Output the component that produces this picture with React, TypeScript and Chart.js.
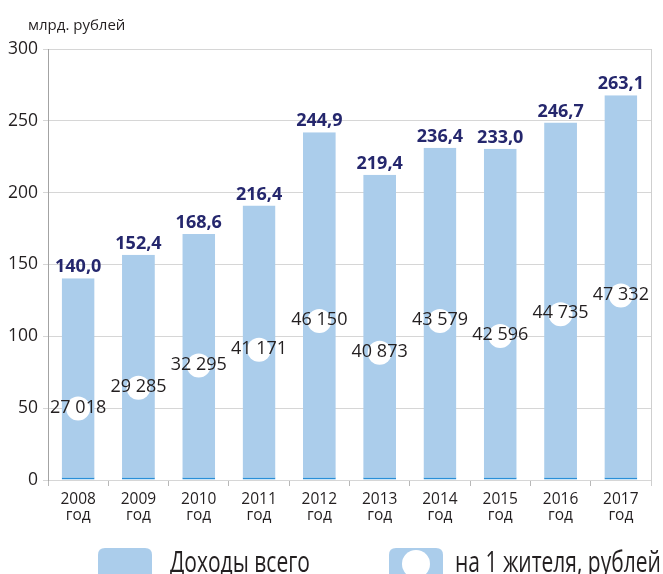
import React, { useEffect, useRef } from 'react';
import { Chart, registerables } from 'chart.js';

Chart.register(...registerables);

// ---- data ----
const years = ['2008', '2009', '2010', '2011', '2012', '2013', '2014', '2015', '2016', '2017'];
const yearSuffix = 'год';
const incomeTotal = [140.0, 152.4, 168.6, 216.4, 244.9, 219.4, 236.4, 233.0, 246.7, 263.1];
const barHeights = [140.5, 156.8, 171.2, 191.0, 242.0, 212.5, 231.2, 230.5, 248.8, 267.8];
const perCapita = [27018, 29285, 32295, 41171, 46150, 40873, 43579, 42596, 44735, 47332];
const perCapitaMarker = [49.8, 64.2, 79.7, 90.7, 110.6, 88.6, 110.6, 100.3, 115.4, 128.4];
const yMin = 0;
const yMax = 300;
const yStep = 50;
const unitLabel = 'млрд. рублей';
const seriesNames = ['Доходы всего', 'на 1 жителя, рублей'];

// ---- styles ----
const FONT = '"Open Sans", "Noto Sans", sans-serif';
const BAR = '#abcdeb';
const BAR_EDGE = '#2a8fd8';
const NAVY = '#25276d';
const TEXT = '#231f20';
const GRID = '#d6d6d6';

const fmtTotal = (v: number) => v.toFixed(1).replace('.', ',');
const fmtPer = (v: number) => String(v).replace(/\B(?=(\d{3})+(?!\d))/g, ' ');

const labelsPlugin = {
  id: 'valueLabels',
  afterDatasetsDraw(chart: any) {
    const ctx = chart.ctx;
    ctx.save();
    ctx.textAlign = 'center';
    const barMeta = chart.getDatasetMeta(0);
    ctx.font = `bold 18px ${FONT}`;
    ctx.fillStyle = NAVY;
    ctx.textBaseline = 'alphabetic';
    barMeta.data.forEach((el: any, i: number) => {
      ctx.fillText(fmtTotal(incomeTotal[i]), el.x, el.y - 6);
    });
    const ptMeta = chart.getDatasetMeta(1);
    ctx.font = `18px ${FONT}`;
    ctx.fillStyle = TEXT;
    ctx.textBaseline = 'middle';
    ptMeta.data.forEach((el: any, i: number) => {
      ctx.fillText(fmtPer(perCapita[i]), el.x, el.y - 1);
    });
    ctx.restore();
  },
};

const decorPlugin = {
  id: 'decor',
  afterDraw(chart: any) {
    const ctx = chart.ctx;
    const area = chart.chartArea;
    ctx.save();
    // right frame line
    ctx.strokeStyle = '#cfcfcf';
    ctx.lineWidth = 1;
    ctx.beginPath();
    ctx.moveTo(area.right + 0.5, area.top);
    ctx.lineTo(area.right + 0.5, area.bottom + 6);
    ctx.stroke();
    // unit label
    ctx.font = `15px ${FONT}`;
    ctx.fillStyle = TEXT;
    ctx.textAlign = 'left';
    ctx.textBaseline = 'alphabetic';
    ctx.fillText(unitLabel, 28, 29.5);

    // legend
    const rr = (x: number, y: number, w: number, h: number, r: number) => {
      ctx.beginPath();
      ctx.moveTo(x + r, y);
      ctx.lineTo(x + w - r, y);
      ctx.quadraticCurveTo(x + w, y, x + w, y + r);
      ctx.lineTo(x + w, y + h - r);
      ctx.quadraticCurveTo(x + w, y + h, x + w - r, y + h);
      ctx.lineTo(x + r, y + h);
      ctx.quadraticCurveTo(x, y + h, x, y + h - r);
      ctx.lineTo(x, y + r);
      ctx.quadraticCurveTo(x, y, x + r, y);
      ctx.closePath();
    };
    const drawText = (t: string, x: number, base: number) => {
      ctx.save();
      ctx.translate(x, base);
      ctx.scale(1, 1.4);
      ctx.font = `21px ${FONT}`;
      ctx.fillStyle = TEXT;
      ctx.textAlign = 'left';
      ctx.textBaseline = 'alphabetic';
      ctx.fillText(t, 0, 0);
      ctx.restore();
    };
    ctx.fillStyle = BAR;
    rr(98, 548, 54, 34, 7);
    ctx.fill();
    drawText(seriesNames[0], 170, 572);
    ctx.fillStyle = BAR;
    rr(389, 548, 54, 34, 7);
    ctx.fill();
    ctx.fillStyle = '#ffffff';
    ctx.beginPath();
    ctx.arc(416, 564, 14, 0, Math.PI * 2);
    ctx.fill();
    drawText(seriesNames[1], 455, 572);
    ctx.restore();
  },
};

export default function App() {
  const ref = useRef<HTMLCanvasElement | null>(null);
  useEffect(() => {
    if (!ref.current) return;
    const chart = new Chart(ref.current, {
      type: 'bar',
      data: {
        labels: years.map((y) => [y, yearSuffix]),
        datasets: [
          {
            type: 'bar',
            label: seriesNames[0],
            data: barHeights,
            backgroundColor: BAR,
            borderColor: BAR_EDGE,
            borderWidth: { top: 0, left: 0, right: 0, bottom: 2 },
            borderSkipped: false,
            barPercentage: 0.545,
            categoryPercentage: 1,
            order: 2,
          },
          {
            type: 'line',
            label: seriesNames[1],
            data: perCapitaMarker,
            showLine: false,
            pointRadius: 12,
            pointHoverRadius: 12,
            pointBackgroundColor: '#ffffff',
            pointBorderWidth: 0,
            borderColor: '#ffffff',
            order: 1,
          },
        ],
      } as any,
      options: {
        animation: false,
        responsive: false,
        events: [],
        layout: { padding: { top: 49, right: 3, bottom: 0, left: 0 } },
        plugins: { legend: { display: false }, tooltip: { enabled: false }, title: { display: false } },
        scales: {
          x: {
            offset: true,
            grid: {
              display: true,
              drawOnChartArea: false,
              drawTicks: true,
              tickLength: 6,
              color: '#b8b8b8',
              offset: true,
            },
            border: { display: true, color: GRID },
            ticks: {
              color: TEXT,
              font: { family: FONT, size: 15.5, lineHeight: 1.0 },
              padding: 6,
              maxRotation: 0,
              autoSkip: false,
            },
            afterFit: (s: any) => {
              s.height = 94;
            },
          },
          y: {
            min: yMin,
            max: yMax,
            grid: { color: GRID, tickLength: 5, lineWidth: 1 },
            border: { display: true, color: '#a3a3a3' },
            ticks: {
              stepSize: yStep,
              color: TEXT,
              font: { family: FONT, size: 17.5 },
              padding: 5,
            },
            afterFit: (s: any) => {
              s.width = 48;
            },
          },
        },
      } as any,
      plugins: [labelsPlugin, decorPlugin],
    });
    return () => chart.destroy();
  }, []);
  return (
    <div style={{ position: 'fixed', left: 0, top: 0, width: 663, height: 574, background: '#fff' }}>
      <canvas ref={ref} width={663} height={574} style={{ display: 'block' }} />
    </div>
  );
}
